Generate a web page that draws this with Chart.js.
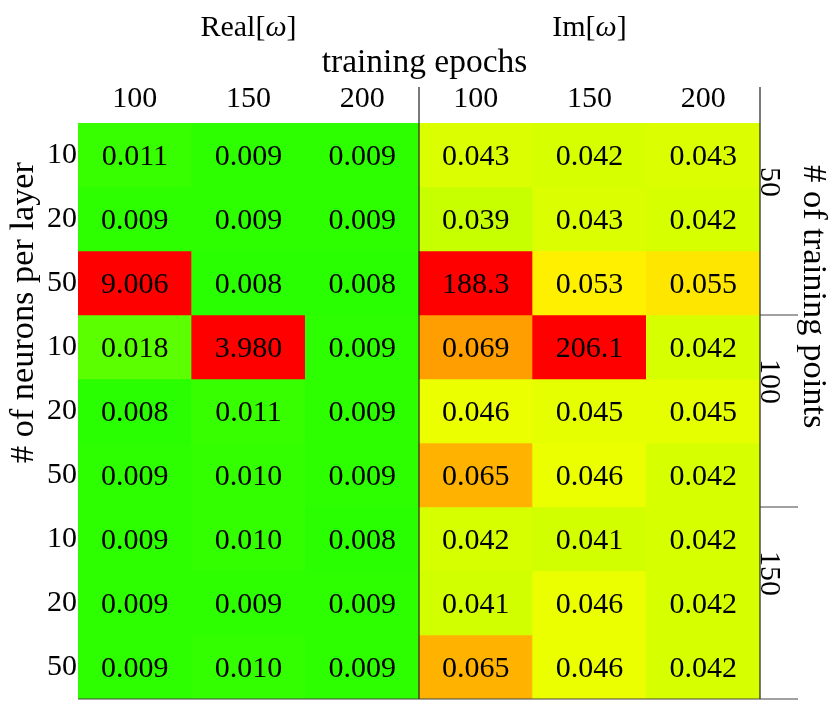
<!DOCTYPE html>
<html>
<head>
<meta charset="utf-8">
<script src="https://cdn.jsdelivr.net/npm/chart.js@4.4.1/dist/chart.umd.min.js"></script>
<style>
  html, body { margin: 0; padding: 0; background: #fff; }
  #wrap { width: 831px; height: 714px; }
</style>
</head>
<body>
<div id="wrap"><canvas id="c" width="831" height="714"></canvas></div>
<script>
// ---- data ----
const colLabels = ['100', '150', '200', '100', '150', '200'];
const rowLabels = ['10', '20', '50', '10', '20', '50', '10', '20', '50'];
const groupLabels = ['50', '100', '150'];
const xTitle = 'training epochs';
const yTitle = '# of neurons per layer';
const rightTitle = '# of training points';

const realValues = [
  [0.011, 0.009, 0.009],
  [0.009, 0.009, 0.009],
  [9.006, 0.008, 0.008],
  [0.018, 3.980, 0.009],
  [0.008, 0.011, 0.009],
  [0.009, 0.010, 0.009],
  [0.009, 0.010, 0.008],
  [0.009, 0.009, 0.009],
  [0.009, 0.010, 0.009]
];
const imValues = [
  [0.043, 0.042, 0.043],
  [0.039, 0.043, 0.042],
  [188.3, 0.053, 0.055],
  [0.069, 206.1, 0.042],
  [0.046, 0.045, 0.045],
  [0.065, 0.046, 0.042],
  [0.042, 0.041, 0.042],
  [0.041, 0.046, 0.042],
  [0.065, 0.046, 0.042]
];

// ---- helpers ----
const rowValues = realValues.map((r, i) => r.concat(imValues[i]));
function fmt(v) { return v >= 100 ? v.toFixed(1) : v.toFixed(3); }
function colorFor(v) {
  const t = Math.max(0, Math.min(1, v / 0.1));
  let r, g;
  if (t <= 0.5) { r = Math.round(510 * t); g = 255; }
  else { r = 255; g = Math.round(255 * (2 - 2 * t)); }
  return `rgb(${r},${g},0)`;
}

const SERIF = "'Liberation Serif', 'DejaVu Serif', serif";

const datasets = rowValues.map((vals, r) => ({
  label: 'row ' + r,
  data: vals.map(() => [r, r + 1]),
  backgroundColor: vals.map(colorFor),
  borderWidth: 0,
  barPercentage: 1,
  categoryPercentage: 1,
  grouped: false
}));

function drawParts(ctx, parts, cx, y) {
  let total = 0;
  parts.forEach(p => { ctx.font = p.font; p.w = ctx.measureText(p.t).width; total += p.w; });
  let x = cx - total / 2;
  ctx.textAlign = 'left';
  parts.forEach(p => { ctx.font = p.font; ctx.fillText(p.t, x, y); x += p.w; });
}

const annot = {
  id: 'annot',
  afterDatasetsDraw(chart) {
    const ctx = chart.ctx, xs = chart.scales.x, ys = chart.scales.y, ca = chart.chartArea;
    ctx.save();
    ctx.fillStyle = '#000';
    ctx.font = '30px ' + SERIF;
    ctx.textAlign = 'center';
    ctx.textBaseline = 'alphabetic';
    rowValues.forEach((vals, r) => {
      vals.forEach((v, c) => {
        ctx.fillText(fmt(v), xs.getPixelForValue(c), ys.getPixelForValue(r + 0.5) + 10);
      });
    });

    // lines
    ctx.strokeStyle = '#222';
    ctx.lineWidth = 1.2;
    const midX = xs.getPixelForValue(2.5);
    const lineTop = ca.top - 36;
    ctx.beginPath();
    ctx.moveTo(midX, lineTop); ctx.lineTo(midX, ca.bottom);
    ctx.moveTo(ca.right, lineTop); ctx.lineTo(ca.right, ca.bottom);
    ctx.stroke();
    ctx.strokeStyle = '#444';
    ctx.beginPath();
    [3, 6].forEach(v => {
      const y = ys.getPixelForValue(v);
      ctx.moveTo(ca.right, y); ctx.lineTo(ca.right + 38, y);
    });
    ctx.moveTo(ca.left, ca.bottom); ctx.lineTo(ca.right + 38, ca.bottom);
    ctx.stroke();

    // panel titles
    const regFont = '30px ' + SERIF, itFont = 'italic 30px ' + SERIF;
    ctx.textBaseline = 'alphabetic';
    drawParts(ctx, [{t: 'Real[', font: regFont}, {t: 'ω', font: itFont}, {t: ']', font: regFont}],
      (xs.getPixelForValue(0) + xs.getPixelForValue(2)) / 2, 36);
    drawParts(ctx, [{t: 'Im[', font: regFont}, {t: 'ω', font: itFont}, {t: ']', font: regFont}],
      (xs.getPixelForValue(3) + xs.getPixelForValue(5)) / 2, 36);
    ctx.font = '33.5px ' + SERIF;
    ctx.textAlign = 'center';
    ctx.fillText(xTitle, 424.5, 72);

    // left title
    ctx.font = '34.3px ' + SERIF;
    ctx.save();
    ctx.translate(33, 463);
    ctx.rotate(-Math.PI / 2);
    ctx.textAlign = 'left';
    ctx.fillText(yTitle, 0, 0);
    ctx.restore();

    // right title
    ctx.save();
    ctx.font = '34.5px ' + SERIF;
    ctx.translate(804, 165);
    ctx.rotate(Math.PI / 2);
    ctx.textAlign = 'left';
    ctx.fillText(rightTitle, 0, 0);
    ctx.restore();

    // group labels
    ctx.font = '30px ' + SERIF;
    groupLabels.forEach((g, i) => {
      ctx.save();
      ctx.translate(ca.right + 1, ys.getPixelForValue(i * 3) + 44);
      ctx.rotate(Math.PI / 2);
      ctx.textAlign = 'left';
      ctx.fillText(g, 0, 0);
      ctx.restore();
    });
    ctx.restore();
  }
};

new Chart(document.getElementById('c'), {
  type: 'bar',
  data: { labels: colLabels, datasets },
  options: {
    responsive: false,
    animation: false,
    layout: { padding: { left: 0, top: 0, right: 71, bottom: 15 } },
    plugins: { legend: { display: false }, tooltip: { enabled: false } },
    scales: {
      x: {
        position: 'top',
        grid: { display: false, drawTicks: false },
        border: { display: false },
        ticks: { color: '#000', font: { family: SERIF, size: 30 }, padding: 6, maxRotation: 0 },
        afterFit(s) { s.height = 123; s.paddingLeft = 0; s.paddingRight = 0; }
      },
      y: {
        type: 'linear',
        min: 0, max: 9,
        reverse: true,
        grid: { display: false, drawTicks: false },
        border: { display: false },
        afterBuildTicks(s) { s.ticks = rowLabels.map((_, i) => ({ value: i + 0.5 })); },
        ticks: {
          color: '#000', font: { family: SERIF, size: 30 }, padding: 1,
          callback: (v) => rowLabels[Math.floor(v)]
        },
        afterFit(s) { s.width = 78; s.paddingTop = 0; s.paddingBottom = 0; }
      }
    }
  },
  plugins: [annot]
});
</script>
</body>
</html>
